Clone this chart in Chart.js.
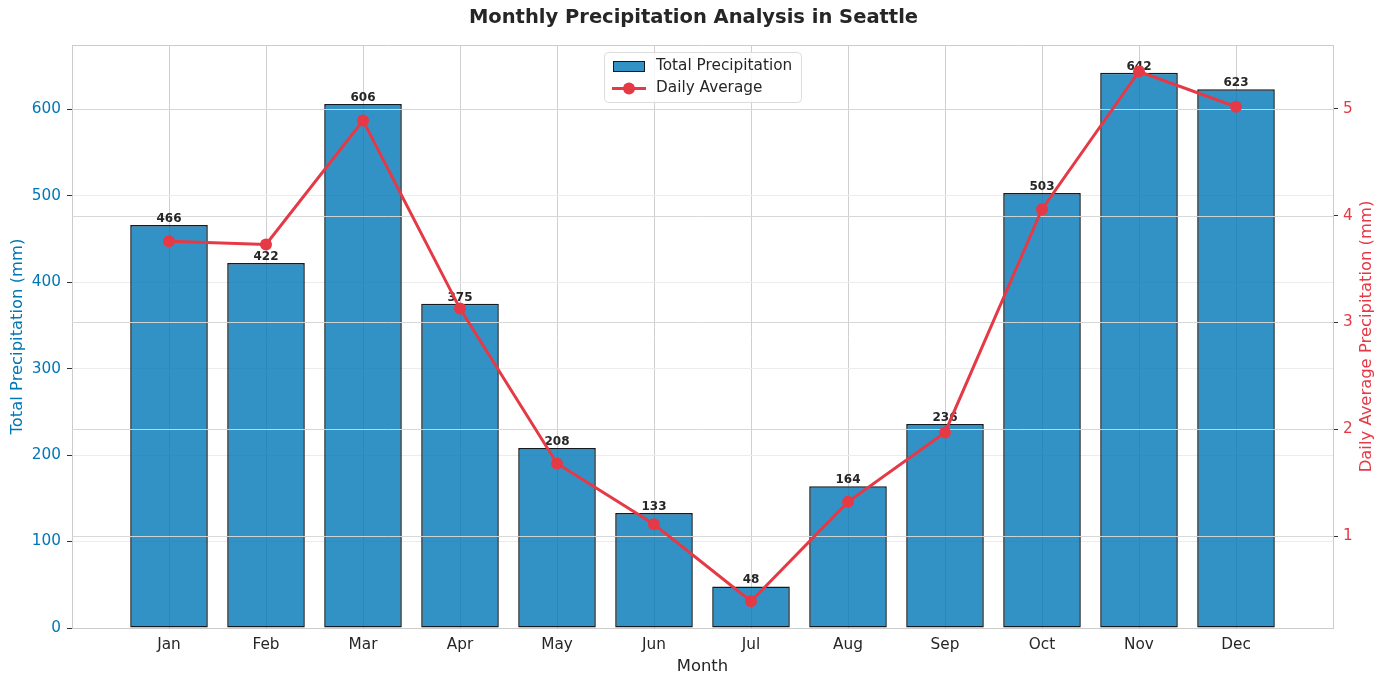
<!DOCTYPE html>
<html>
<head>
<meta charset="utf-8">
<title>Monthly Precipitation Analysis in Seattle</title>
<script src="https://cdn.jsdelivr.net/npm/chart.js@4.4.1/dist/chart.umd.min.js"></script>
<style>
  html, body { margin: 0; padding: 0; background: #ffffff; }
  #wrap { width: 1387px; height: 686px; }
</style>
</head>
<body>
<div id="wrap"><canvas id="precipChart" width="1387" height="686"></canvas></div>
<script>
const months = ['Jan', 'Feb', 'Mar', 'Apr', 'May', 'Jun', 'Jul', 'Aug', 'Sep', 'Oct', 'Nov', 'Dec'];
const totalPrecip = [466, 422, 606, 375, 208, 133, 48, 164, 236, 503, 642, 623];
const dailyAvg = [3.76, 3.73, 4.89, 3.13, 1.68, 1.11, 0.39, 1.32, 1.97, 4.06, 5.35, 5.02];
const leftTicks = [0, 100, 200, 300, 400, 500, 600];
const rightTicks = [1, 2, 3, 4, 5];

const BLUE = '#0077b6';
const RED = '#e63946';
const FONT = "'DejaVu Sans', 'Liberation Sans', sans-serif";

Chart.defaults.font.family = FONT;
Chart.defaults.color = '#262626';

// bars sit on whole numbers 1..12 of a 0..13 axis, so there is a full slot of room at each end
const barPoints = totalPrecip.map(function (v, i) { return { x: i + 1, y: v }; });
const linePoints = dailyAvg.map(function (v, i) { return { x: i + 1, y: v }; });

// right-axis grid goes over the bars but under the line, labels too
const overBars = {
    id: 'overBars',
    afterDatasetDraw: function (chart, args) {
        if (args.index !== 0) return;
        const ctx = chart.ctx;
        const area = chart.chartArea;
        const y1 = chart.scales.y1;
        ctx.save();
        ctx.strokeStyle = 'rgba(214,214,214,0.95)';
        ctx.lineWidth = 1;
        y1.ticks.forEach(function (t) {
            const py = Math.round(y1.getPixelForValue(t.value)) + 0.5;
            ctx.beginPath();
            ctx.moveTo(area.left, py);
            ctx.lineTo(area.right, py);
            ctx.stroke();
        });
        ctx.font = 'bold 12px ' + FONT;
        ctx.fillStyle = '#262626';
        ctx.textAlign = 'center';
        ctx.textBaseline = 'alphabetic';
        args.meta.data.forEach(function (bar, i) {
            ctx.fillText(String(totalPrecip[i]), bar.x, bar.y - 3);
        });
        ctx.restore();
    }
};

// top spine, the boxed legend in the upper middle, and the right axis label read bottom-up
const frameAndLegend = {
    id: 'frameAndLegend',
    afterDatasetsDraw: function (chart) {
        const ctx = chart.ctx;
        const area = chart.chartArea;
        ctx.save();
        ctx.strokeStyle = '#cccccc';
        ctx.lineWidth = 1;
        ctx.beginPath();
        ctx.moveTo(area.left, area.top + 0.5);
        ctx.lineTo(area.right, area.top + 0.5);
        ctx.stroke();

        const ds = chart.data.datasets;
        const bx = 604.5, by = 52.5, bw = 197, bh = 50;
        ctx.fillStyle = 'rgba(255,255,255,0.85)';
        ctx.strokeStyle = '#dcdcdc';
        ctx.beginPath();
        ctx.roundRect(bx, by, bw, bh, 4);
        ctx.fill();
        ctx.stroke();

        // bar entry
        ctx.fillStyle = ds[0].backgroundColor;
        ctx.fillRect(613, 61, 32, 11);
        ctx.strokeStyle = ds[0].borderColor;
        ctx.strokeRect(613.5, 61.5, 31, 10);

        // line entry
        ctx.strokeStyle = ds[1].borderColor;
        ctx.lineWidth = 3;
        ctx.beginPath();
        ctx.moveTo(612, 88.5);
        ctx.lineTo(646, 88.5);
        ctx.stroke();
        ctx.fillStyle = ds[1].pointBackgroundColor;
        ctx.beginPath();
        ctx.arc(629, 88.5, 6, 0, Math.PI * 2);
        ctx.fill();

        ctx.font = '15.3px ' + FONT;
        ctx.fillStyle = '#262626';
        ctx.textAlign = 'left';
        ctx.textBaseline = 'middle';
        ctx.fillText(ds[0].label, 656, 66.5);
        ctx.fillText(ds[1].label, 656, 88.5);

        ctx.translate(1367, (area.top + area.bottom) / 2);
        ctx.rotate(-Math.PI / 2);
        ctx.font = '16.4px ' + FONT;
        ctx.fillStyle = RED;
        ctx.textAlign = 'center';
        ctx.fillText('Daily Average Precipitation (mm)', 0, 0);
        ctx.restore();
    }
};

const ctx = document.getElementById('precipChart').getContext('2d');
const precipChart = new Chart(ctx, {
    data: {
        datasets: [{
            type: 'bar',
            label: 'Total Precipitation',
            data: barPoints,
            yAxisID: 'y',
            backgroundColor: 'rgba(0,119,182,0.8)',
            borderColor: '#141a1f',
            borderWidth: 1.5,
            borderSkipped: false,
            inflateAmount: 0,
            categoryPercentage: 1,
            barPercentage: 0.8,
            order: 2
        }, {
            type: 'line',
            label: 'Daily Average',
            data: linePoints,
            yAxisID: 'y1',
            borderColor: RED,
            backgroundColor: RED,
            pointBackgroundColor: RED,
            pointBorderColor: RED,
            borderWidth: 3,
            pointRadius: 6,
            pointBorderWidth: 0,
            tension: 0,
            order: 1
        }]
    },
    options: {
        responsive: false,
        animation: false,
        devicePixelRatio: 1,
        layout: { padding: { left: 0, right: 0, top: 0, bottom: 0 } },
        plugins: {
            legend: { display: false },
            tooltip: { enabled: false },
            title: {
                display: true,
                text: 'Monthly Precipitation Analysis in Seattle',
                font: { size: 19.5, weight: 'bold' },
                color: '#262626',
                padding: { top: 6.3, bottom: 15.3 }
            }
        },
        scales: {
            x: {
                type: 'linear',
                offset: false,
                min: 0,
                max: 13,
                afterBuildTicks: function (scale) {
                    scale.ticks = months.map(function (m, i) { return { value: i + 1 }; });
                },
                afterFit: function (scale) { scale.height = 58; },
                ticks: {
                    autoSkip: false,
                    padding: 8,
                    font: { size: 15.3 },
                    color: '#262626',
                    callback: function (v) { return months[v - 1] || ''; }
                },
                grid: { color: '#d0d0d0', drawTicks: false, offset: false },
                border: { color: '#cccccc' },
                title: {
                    display: true,
                    text: 'Month',
                    font: { size: 16.4 },
                    color: '#262626',
                    padding: { top: 0, bottom: 9.5 }
                }
            },
            y: {
                position: 'left',
                min: 0,
                max: 674.1,
                afterBuildTicks: function (scale) {
                    scale.ticks = leftTicks.map(function (v) { return { value: v }; });
                },
                afterFit: function (scale) { scale.width = 72; },
                ticks: { padding: 6, font: { size: 15.3 }, color: BLUE },
                grid: { color: '#ececec', tickColor: '#333333', tickLength: 5 },
                border: { color: '#cccccc' },
                title: {
                    display: true,
                    text: 'Total Precipitation (mm)',
                    font: { size: 16.4 },
                    color: BLUE,
                    padding: { top: 8.2, bottom: 0 }
                }
            },
            y1: {
                position: 'right',
                min: 0.139,
                max: 5.598,
                afterBuildTicks: function (scale) {
                    scale.ticks = rightTicks.map(function (v) { return { value: v }; });
                },
                afterFit: function (scale) { scale.width = 54; },
                ticks: { padding: 5, font: { size: 15.3 }, color: RED },
                grid: { drawOnChartArea: false, tickColor: '#333333', tickLength: 5 },
                border: { color: '#cccccc' },
                title: { display: false }
            }
        }
    },
    plugins: [overBars, frameAndLegend]
});
</script>
</body>
</html>
